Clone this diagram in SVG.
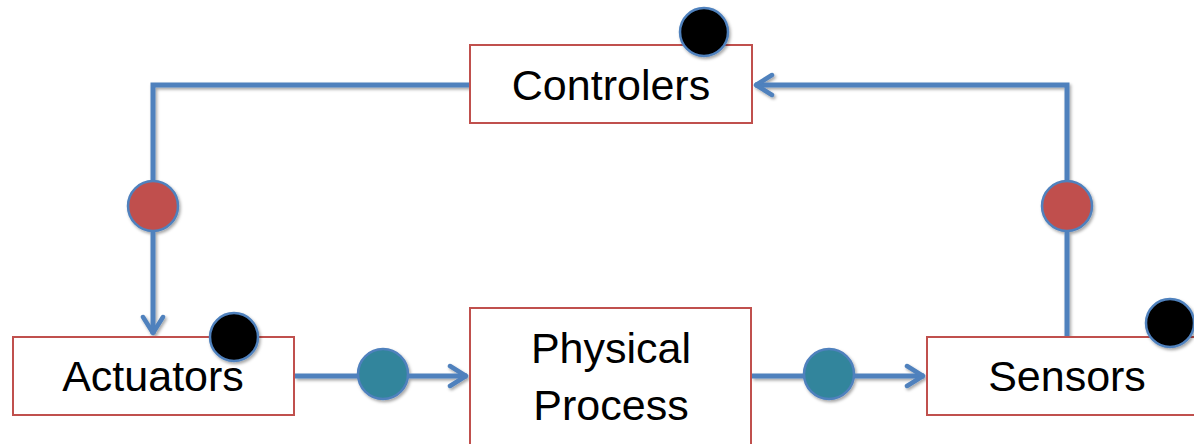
<svg xmlns="http://www.w3.org/2000/svg" width="1194" height="444" viewBox="0 0 1194 444">
<style>
.box{fill:#ffffff;stroke:#C0504D;stroke-width:2}
.lbl{font-family:"Liberation Sans",Arial,sans-serif;font-size:43px;fill:#000000;text-anchor:middle}
.wire{fill:none;stroke:#4F81BD;stroke-width:5;stroke-linejoin:miter}
.dot{stroke:#4F81BD;stroke-width:2.5}
.red{fill:#C0504D}
.teal{fill:#31859C}
.blk{fill:#000000}
</style>
<defs>
<filter id="sh" x="-30%" y="-30%" width="160%" height="160%">
<feDropShadow dx="1.5" dy="2" stdDeviation="1.5" flood-color="#000" flood-opacity="0.35"/>
</filter>
<marker id="arr" viewBox="0 0 22 26" refX="20" refY="13" markerWidth="22" markerHeight="26" markerUnits="userSpaceOnUse" orient="auto">
<path d="M3,3 L19,13 L3,23" fill="none" stroke="#4F81BD" stroke-width="4.5" stroke-linecap="round" stroke-linejoin="round"/>
</marker>
</defs>
<g id="connectors" filter="url(#sh)">
<path class="wire" d="M470,85 L153,85 L153,334" marker-end="url(#arr)"/>
<path class="wire" d="M1067,337 L1067,85 L755,85" marker-end="url(#arr)"/>
<path class="wire" d="M295,376 L467,376" marker-end="url(#arr)"/>
<path class="wire" d="M752,376 L924,376" marker-end="url(#arr)"/>
<circle class="dot red" cx="153" cy="206" r="25"/>
<circle class="dot red" cx="1067" cy="206" r="25"/>
<circle class="dot teal" cx="383" cy="374" r="25"/>
<circle class="dot teal" cx="829" cy="374" r="25"/>
</g>
<g id="controlers">
<rect class="box" x="470" y="45" width="282" height="78"/>
<text class="lbl" x="611" y="100">Controlers</text>
<circle class="dot blk" cx="704" cy="32" r="24" filter="url(#sh)"/>
</g>
<g id="actuators">
<rect class="box" x="13" y="337" width="281" height="78"/>
<text class="lbl" x="153" y="391">Actuators</text>
<circle class="dot blk" cx="234" cy="337" r="24" filter="url(#sh)"/>
</g>
<g id="physical-process">
<rect class="box" x="470" y="308" width="281" height="145"/>
<text class="lbl" x="611" y="363">Physical</text>
<text class="lbl" x="611" y="420">Process</text>
</g>
<g id="sensors">
<rect class="box" x="927" y="337" width="280" height="78"/>
<text class="lbl" x="1067" y="391">Sensors</text>
<circle class="dot blk" cx="1170" cy="323" r="24" filter="url(#sh)"/>
</g>
</svg>
